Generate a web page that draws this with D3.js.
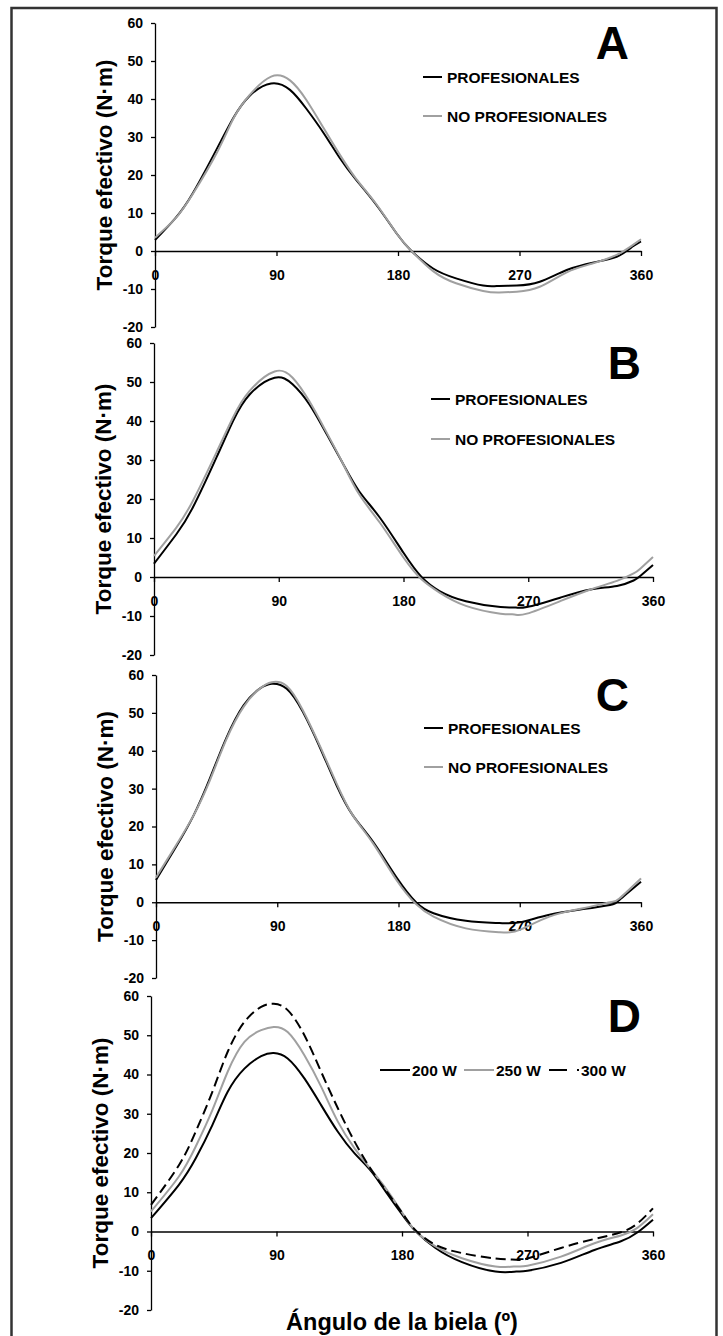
<!DOCTYPE html>
<html>
<head>
<meta charset="utf-8">
<script src="https://cdn.jsdelivr.net/npm/d3@7"></script>
<style>
  body { margin: 0; background: #fff; }
  text { font-family: Arial, "Liberation Sans", sans-serif; font-weight: bold; }
</style>
</head>
<body>
<div id="grafico"></div>
<script>
// Datos (ángulo de la biela en grados, torque en N·m)
const ticksX = [0, 90, 180, 270, 360];
const ticksY = [-20, -10, 0, 10, 20, 30, 40, 50, 60];

// Panel A
const angulosA = [0, 15, 28, 46, 58, 70, 86, 100, 112, 125, 137, 149, 164, 179, 190, 206, 223, 243, 255, 268, 285, 305, 325, 342, 352, 360];
const profA   = [2.9, 8.6, 15.2, 27, 35, 40.8, 44.1, 42.4, 37.5, 31, 24.4, 18.7, 12.1, 4.6, 0, -4.6, -7.2, -9.1, -9.2, -9.1, -8.1, -5, -3, -1.5, 0.7, 2.5];
const noProfA = [3.5, 8.5, 15, 26, 34.8, 41, 45.9, 44.9, 39.8, 32.3, 25.3, 19, 12.3, 4.6, 0, -5.3, -8.5, -10.5, -10.9, -10.7, -9.4, -5.6, -3.2, -1, 1.1, 3.1];

// Panel B
const angulosB = [0, 16, 28, 45, 57, 69, 87, 100, 112, 124, 136, 148, 163, 180, 193, 206, 225, 250, 260, 269, 293, 315, 334, 346, 351, 360];
const profB   = [3.4, 10.9, 17.8, 30.6, 40, 46.8, 51.1, 49.4, 44.3, 37, 29.3, 22, 15.2, 6.2, 0, -3.6, -6.2, -7.7, -7.8, -7.7, -5.3, -3.2, -2.3, -0.9, 0.3, 3.1];
const noProfB = [5.4, 12.6, 19.5, 31.9, 40.9, 47.7, 52.7, 51.1, 45.1, 37.4, 29.3, 21.2, 13.9, 5, -0.6, -4, -7.4, -9.4, -9.6, -9.4, -6.2, -3.2, -1, 0.9, 2.2, 5.1];

// Panel C
const angulosC = [0, 15, 28, 40, 52, 65, 77, 86, 97, 109, 122, 134, 146, 161, 179, 193, 206, 230, 255, 270, 292, 317, 337, 344, 360];
const profC   = [5.9, 14.7, 23, 32.7, 43.2, 52, 56.4, 57.7, 56.4, 50.3, 40.6, 30.9, 23, 16, 6.3, 0, -2.9, -4.9, -5.5, -5.3, -3.3, -1.8, -0.7, 0.6, 5.4];
const noProfC = [6.5, 15.1, 23, 32.2, 42.8, 51.6, 56.4, 58.1, 57.1, 50.7, 41, 31.4, 23, 15.6, 5.6, -0.5, -3.8, -6.9, -7.9, -7.3, -3.8, -1.6, 0, 1, 6.3];

// Panel D
const angulosD = [0, 20, 32, 44, 55, 67, 79, 88, 98, 110, 122, 134, 146, 158, 170, 182, 190, 204, 223, 247, 262, 270, 294, 318, 337, 349, 360];
const w200 = [3.4, 11.9, 18.6, 27.1, 35.6, 41.5, 44.7, 45.5, 44.1, 39, 32.2, 25.4, 19.9, 15.3, 9.3, 3.4, 0, -4.2, -7.8, -10.2, -10.2, -10, -8, -4.7, -2.5, -0.2, 3];
const w250 = [5.1, 14, 21.6, 30.9, 40.7, 48.3, 51.3, 52.1, 50.8, 44.9, 36.9, 28, 21.2, 15.7, 10.2, 3.8, 0, -3.8, -6.8, -8.9, -8.9, -8.7, -6.4, -3, -1, 1, 4.4];
const w300 = [6.8, 16.9, 25.4, 35.6, 45.8, 53.4, 57.2, 58, 56.4, 50, 40.7, 31.4, 22.9, 15.7, 9.7, 3.8, 0.2, -3.4, -5.5, -6.9, -7.2, -6.9, -4.2, -1.9, -0.2, 2.1, 5.9];

const NEGRO = "#000";
const GRIS = "#a0a0a0";

// Tabla de paneles (datos + posición en la página)
const paneles = [
  { letra: "A", angulos: angulosA, x0: 155, x1: 641, yTop: 23, yBot: 327,
    series: [{ nombre: "PROFESIONALES", v: profA, color: NEGRO }, { nombre: "NO PROFESIONALES", v: noProfA, color: GRIS }],
    ley: { tipo: "vertical", x: 423, y: 77, paso: 39 } },
  { letra: "B", angulos: angulosB, x0: 154, x1: 653, yTop: 343, yBot: 655,
    series: [{ nombre: "PROFESIONALES", v: profB, color: NEGRO }, { nombre: "NO PROFESIONALES", v: noProfB, color: GRIS }],
    ley: { tipo: "vertical", x: 431, y: 399, paso: 40 } },
  { letra: "C", angulos: angulosC, x0: 156, x1: 641, yTop: 675, yBot: 978,
    series: [{ nombre: "PROFESIONALES", v: profC, color: NEGRO }, { nombre: "NO PROFESIONALES", v: noProfC, color: GRIS }],
    ley: { tipo: "vertical", x: 424, y: 728, paso: 39 } },
  { letra: "D", angulos: angulosD, x0: 151, x1: 653, yTop: 996, yBot: 1310,
    series: [{ nombre: "200 W", v: w200, color: NEGRO }, { nombre: "250 W", v: w250, color: GRIS },
             { nombre: "300 W", v: w300, color: NEGRO, dash: "10,5" }],
    ley: { tipo: "horizontal", xs: [380, 464, 549], y: 1070 } }
];

const svg = d3.select("#grafico")
  .append("svg")
    .attr("width", 723)
    .attr("height", 1336);

svg.append("rect").attr("width", 723).attr("height", 1336).attr("fill", "#fff");

// Marco exterior
svg.append("rect")
  .attr("x", 11.5).attr("y", 8).attr("width", 705).attr("height", 1345)
  .attr("fill", "none").attr("stroke", "#333").attr("stroke-width", 2.5);

const formato = d => String(d); // guion normal, como en el original

paneles.forEach(p => {
  const g = svg.append("g");
  const x = d3.scaleLinear().domain([0, 360]).range([p.x0, p.x1]);
  const y = d3.scaleLinear().domain([-20, 60]).range([p.yBot, p.yTop]);

  // Eje Y
  const ejeY = g.append("g")
    .attr("transform", "translate(" + p.x0 + ",0)")
    .call(d3.axisLeft(y).tickValues(ticksY).tickFormat(formato).tickSize(4).tickSizeOuter(0).tickPadding(8));
  ejeY.select(".domain").attr("stroke-width", 1.3);
  ejeY.selectAll(".tick line").attr("stroke-width", 1.3);
  ejeY.selectAll("text").attr("font-size", 14).attr("font-family", null).attr("fill", "#000");

  // Eje X sobre y = 0
  const ejeX = g.append("g")
    .attr("transform", "translate(0," + y(0) + ")")
    .call(d3.axisBottom(x).tickValues(ticksX).tickFormat(formato).tickSize(5).tickSizeOuter(0).tickPadding(14));
  ejeX.select(".domain").attr("stroke-width", 1.3);
  ejeX.selectAll(".tick line").attr("stroke-width", 1.3);
  ejeX.selectAll("text").attr("font-size", 14).attr("font-family", null).attr("fill", "#000");

  // Título eje Y
  g.append("text")
    .attr("transform", "translate(" + (p.x0 - 51) + "," + ((p.yTop + p.yBot) / 2) + ") rotate(-90)")
    .attr("text-anchor", "middle")
    .attr("dy", "0.35em")
    .attr("font-size", 22.5)
    .text("Torque efectivo (N·m)");

  // Curvas
  const linea = d3.line()
    .x((d, i) => x(p.angulos[i]))
    .y(d => y(d))
    .curve(d3.curveNatural);

  p.series.forEach(s => {
    g.append("path")
      .attr("d", linea(s.v))
      .attr("fill", "none")
      .attr("stroke", s.color)
      .attr("stroke-width", 2)
      .attr("stroke-dasharray", s.dash || null);
  });

  // Letra del panel
  g.append("text")
    .attr("x", x(360) - 12)
    .attr("y", y(60) + 36)
    .attr("text-anchor", "end")
    .attr("font-size", 46)
    .text(p.letra);

  // Leyenda
  if (p.ley.tipo == "vertical") {
    p.series.forEach((s, i) => {
      const yy = p.ley.y + i * p.ley.paso;
      g.append("line")
        .attr("x1", p.ley.x).attr("x2", p.ley.x + 19).attr("y1", yy).attr("y2", yy)
        .attr("stroke", s.color).attr("stroke-width", 2);
      g.append("text")
        .attr("x", p.ley.x + 24).attr("y", yy).attr("dy", "0.36em")
        .attr("font-size", 15.5)
        .text(s.nombre);
    });
  } else {
    p.series.forEach((s, i) => {
      const xx = p.ley.xs[i];
      g.append("line")
        .attr("x1", xx).attr("x2", xx + 30).attr("y1", p.ley.y).attr("y2", p.ley.y)
        .attr("stroke", s.color).attr("stroke-width", 2)
        .attr("stroke-dasharray", s.dash ? "18,10,3" : null);
      g.append("text")
        .attr("x", xx + 32).attr("y", p.ley.y).attr("dy", "0.36em")
        .attr("font-size", 15.5)
        .text(s.nombre);
    });
  }
});

// Título eje X
const ultimo = paneles[paneles.length - 1];
svg.append("text")
  .attr("x", (ultimo.x0 + ultimo.x1) / 2)
  .attr("y", 1330)
  .attr("text-anchor", "middle")
  .attr("font-size", 23.5)
  .text("Ángulo de la biela (º)");
</script>
</body>
</html>
